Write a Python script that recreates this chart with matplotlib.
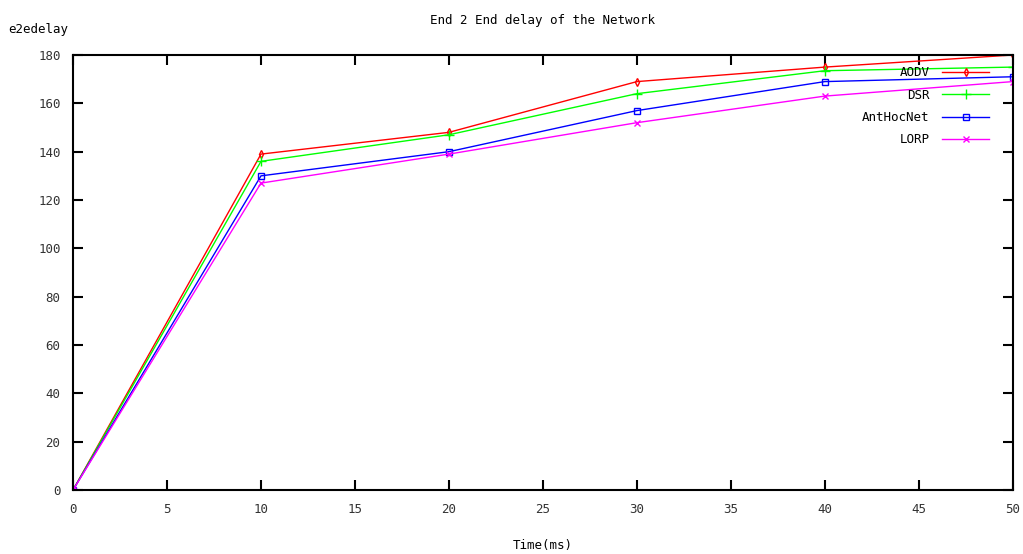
import matplotlib
matplotlib.use('Agg')
import matplotlib.pyplot as plt

time_ms = [0, 10, 20, 30, 40, 50]
aodv = [0, 139, 148, 169, 175, 180]
dsr = [0, 136, 147, 164, 173.5, 175]
anthocnet = [0, 130, 140, 157, 169, 171]
lorp = [0, 127, 139, 152, 163, 169]

x_ticks = list(range(0, 51, 5))
y_ticks = list(range(0, 181, 20))

plt.rcParams['font.family'] = 'DejaVu Sans Mono'
plt.rcParams['font.size'] = 9

fig = plt.figure(figsize=(10.23, 5.54), dpi=100)
ax = fig.add_axes([0.0714, 0.1155, 0.9186, 0.7852])

ax.plot(time_ms, aodv, color='red', marker='d', markersize=4, markerfacecolor='none', linewidth=1, label='AODV')
ax.plot(time_ms, dsr, color='#00ff00', marker='+', markersize=7, linewidth=1, label='DSR')
ax.plot(time_ms, anthocnet, color='blue', marker='s', markersize=5, markerfacecolor='none', linewidth=1, label='AntHocNet')
ax.plot(time_ms, lorp, color='magenta', marker='x', markersize=5, linewidth=1, label='LORP')

ax.set_xlim(0, 50)
ax.set_ylim(0, 180)
ax.set_xticks(x_ticks)
ax.set_yticks(y_ticks)
ax.tick_params(direction='in', length=7, width=1.5, top=True, right=True, pad=9, colors='black', labelcolor='#333333')
for s in ax.spines.values():
    s.set_linewidth(1.5)

ax.set_title('End 2 End delay of the Network', fontsize=9, pad=22)
ax.set_xlabel('Time(ms)', labelpad=17)
fig.text(0.008, 0.94, 'e2edelay', fontsize=9)

leg = ax.legend(loc='upper right', bbox_to_anchor=(0.987, 1.0), frameon=False, markerfirst=False,
                handlelength=3.8, handletextpad=1.0, labelspacing=0.75, fontsize=9)

fig.savefig('out.png', dpi=100)
